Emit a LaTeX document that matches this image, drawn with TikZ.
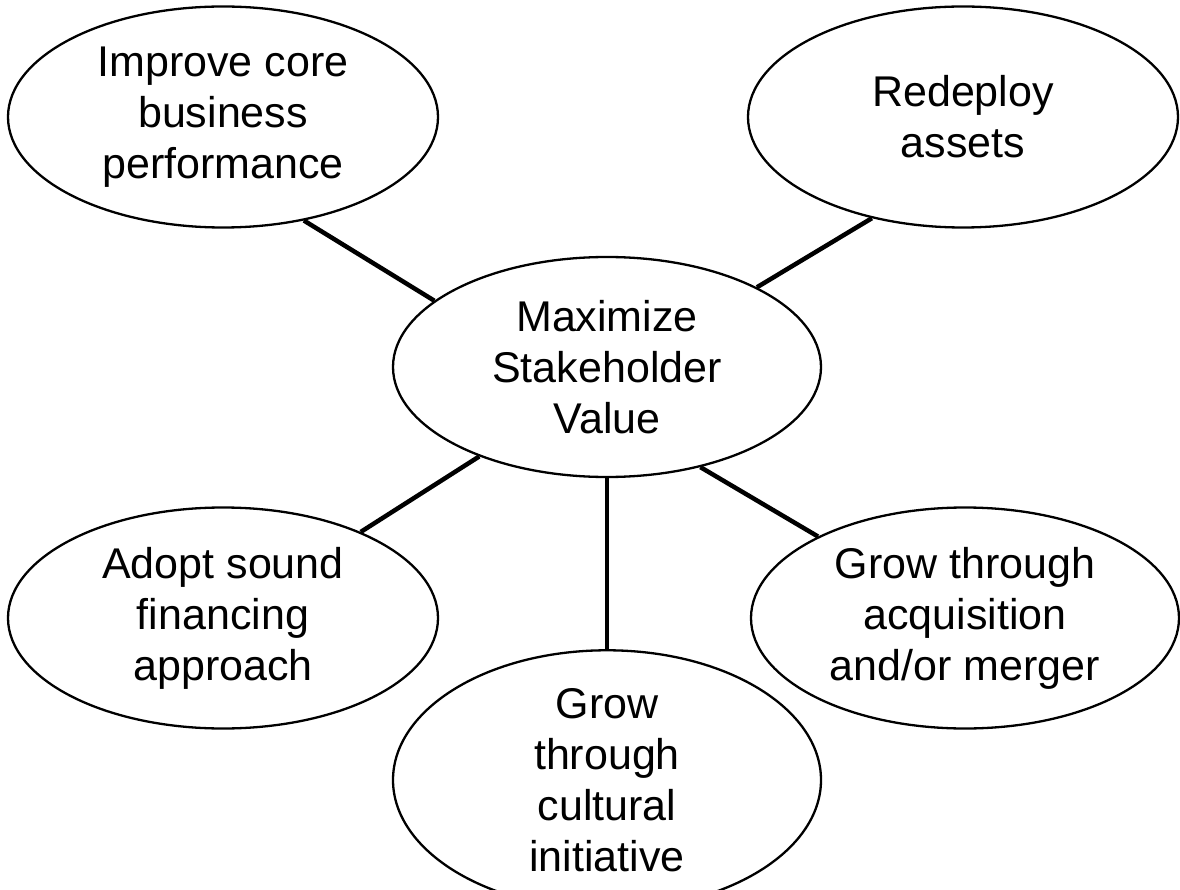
\documentclass[tikz,border=0pt]{standalone}
\usepackage{fontspec}
\setmainfont{Liberation Sans}
\usetikzlibrary{shapes.geometric}
\begin{document}
\begin{tikzpicture}[x=1pt,y=-1pt,
  bubble/.style={ellipse,draw=black,line width=2.3pt,inner sep=0pt,
    minimum width=430pt,minimum height=221pt,align=center,
    font=\fontsize{43}{51}\selectfont},
  link/.style={draw=black,line width=4.5pt}]
\useasboundingbox (0,0) rectangle (1180,890);
\node[bubble] (core) at (223,117) {Improve core\\business\\performance};
\node[bubble] (redeploy) at (963,117) {Redeploy\\assets};
\node[bubble,minimum width=428pt,minimum height=220pt] (center) at (607,367) {Maximize\\Stakeholder\\Value};
\node[bubble] (finance) at (223,618) {Adopt sound\\financing\\approach};
\node[bubble,minimum width=428pt] (acq) at (965,618) {Grow through\\acquisition\\and/or merger};
\node[bubble,minimum width=428pt,minimum height=218pt] (culture) at (607,780) {Grow\\through\\cultural\\initiative};
\draw[link] (core.-52) -- (center.159);
\draw[link] (redeploy.228) -- (center.28);
\draw[link] (center.215) -- (finance.32);
\draw[link] (center.south) -- (culture.north);
\draw[link] (center.-47) -- (acq.151);
\end{tikzpicture}
\end{document}
